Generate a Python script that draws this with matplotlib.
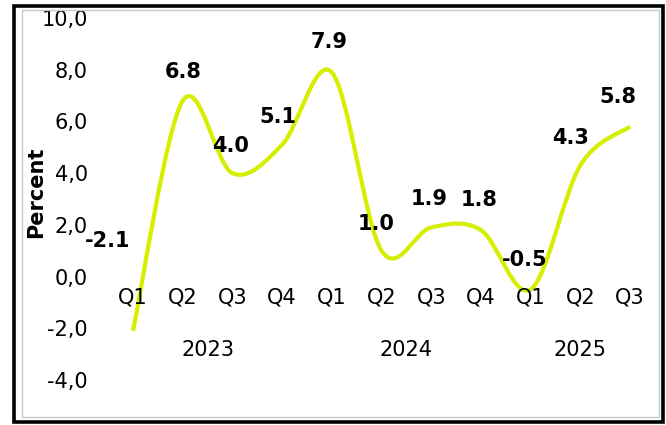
import numpy as np
import matplotlib
matplotlib.use("Agg")
import matplotlib.pyplot as plt
from matplotlib.path import Path
from matplotlib.patches import PathPatch, Rectangle

# === Données ===
quarters = ["Q1", "Q2", "Q3", "Q4", "Q1", "Q2", "Q3", "Q4", "Q1", "Q2", "Q3"]
years = ["2023", "2024", "2025"]
year_first_q = [0, 4, 8]
year_last_q = [3, 7, 10]
growth = [-2.1, 6.8, 4.0, 5.1, 7.9, 1.0, 1.9, 1.8, -0.5, 4.3, 5.8]
y_ticks = [-4.0, -2.0, 0.0, 2.0, 4.0, 6.0, 8.0, 10.0]

# décalage des étiquettes (pixels, par rapport au point)
label_offsets = [(-25, 90), (0, 29), (-2, 27), (-4, 28), (-3, 30), (-5, 27),
                 (-2, 28), (-2, 30), (-6, 29), (-10, 27), (-12, 30)]

LINE_COLOR = "#d6ee00"
FONT = "DejaVu Sans"
PX = 0.72  # pixels -> points à 100 dpi

plt.rcParams["font.family"] = FONT

W, H = 666, 425
fig = plt.figure(figsize=(W / 100, H / 100), dpi=100)

# axes placés pour coller au rendu de référence
left_px, right_px, top_px, bottom_px = 95, 655, 18, 380
ax = fig.add_axes([left_px / W, 1 - bottom_px / H,
                   (right_px - left_px) / W, (bottom_px - top_px) / H])

step = (630 - 133) / 10
ax.set_xlim(-(133 - left_px) / step, 10 + (right_px - 630) / step)
ax.set_ylim(-4, 10)


def smooth_path(xs, ys):
    """Courbe lissée façon Excel (Bézier type Catmull-Rom)"""
    pts = np.column_stack([xs, ys]).astype(float)
    n = len(pts)
    verts = [pts[0]]
    codes = [Path.MOVETO]
    for i in range(n - 1):
        p0 = pts[max(i - 1, 0)]
        p1 = pts[i]
        p2 = pts[i + 1]
        p3 = pts[min(i + 2, n - 1)]
        c1 = p1 + (p2 - p0) / 6
        c2 = p2 - (p3 - p1) / 6
        verts += [c1, c2, p2]
        codes += [Path.CURVE4] * 3
    return Path(verts, codes)


xs = np.arange(len(growth))
ax.add_patch(PathPatch(smooth_path(xs, growth), fill=False,
                       edgecolor=LINE_COLOR, linewidth=3, capstyle="butt",
                       joinstyle="round"))

# étiquettes des valeurs
for x, v, (dx, dy) in zip(xs, growth, label_offsets):
    ax.annotate(f"{v:.1f}", xy=(x, v), xytext=(dx * PX, dy * PX),
                textcoords="offset points", ha="center", va="center",
                fontsize=15, fontweight="bold", color="black")

# axe Y
ax.set_yticks(y_ticks)
ax.set_yticklabels([f"{t:.1f}".replace(".", ",") for t in y_ticks])
ax.tick_params(axis="y", length=0, pad=7 * PX, labelsize=15)

# axe X au niveau de 0
ax.spines["bottom"].set_position(("data", 0))
for s in ax.spines.values():
    s.set_visible(False)
ax.set_xticks(xs)
ax.set_xticklabels(quarters)
ax.tick_params(axis="x", length=0, pad=11 * PX, labelsize=15)

for name, a, b in zip(years, year_first_q, year_last_q):
    ax.annotate(name, xy=((a + b) / 2, 0), xytext=(0, -73 * PX),
                textcoords="offset points", ha="center", va="center",
                fontsize=15)

fig.text(36 / W, 1 - 192 / H, "Percent", rotation=90, ha="center",
         va="center", fontsize=15, fontweight="bold")

# cadre
fig.patches.append(Rectangle((22 / W, 1 - 417 / H), (659 - 22) / W, (417 - 10) / H,
                             transform=fig.transFigure, fill=False,
                             edgecolor="#c8c8c8", linewidth=1))
fig.patches.append(Rectangle((14.5 / W, 1 - 422 / H), (663 - 14.5) / W, (422 - 5.5) / H,
                             transform=fig.transFigure, fill=False,
                             edgecolor="black", linewidth=2.6))

fig.savefig("out.png", dpi=100)
